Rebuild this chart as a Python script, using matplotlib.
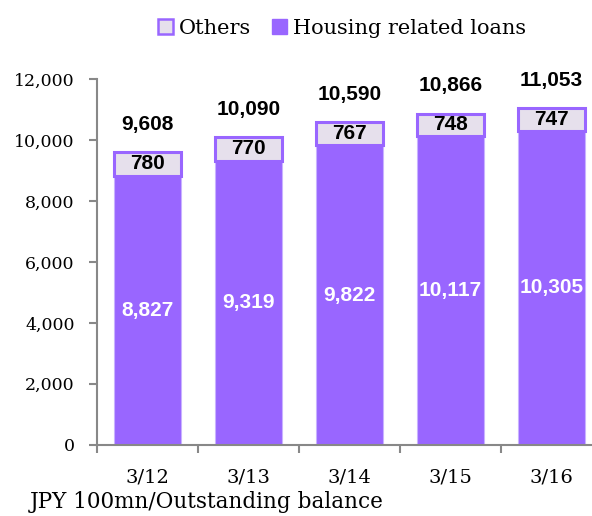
import matplotlib
matplotlib.use("Agg")
import matplotlib.pyplot as plt
from matplotlib.patches import Patch
import numpy as np

periods = ["3/12", "3/13", "3/14", "3/15", "3/16"]
housing = [8827, 9319, 9822, 10117, 10305]
others = [780, 770, 767, 748, 747]
totals = [9608, 10090, 10590, 10866, 11053]

purple = "#9966FF"
lavender = "#E6E0EC"
serif = "DejaVu Serif"
sans = "Liberation Sans"

fig = plt.figure(figsize=(5.92, 5.16), dpi=100)
ax = fig.add_axes([0.164, 0.138, 0.836, 0.709])

x = np.arange(len(periods))
w = 0.67
ax.bar(x, housing, width=w, color=purple, edgecolor="#C9B3FF", linewidth=0.8)
ax.bar(x, others, width=w, bottom=housing, color=lavender, edgecolor=purple, linewidth=2.2)

for i in range(len(periods)):
    ax.text(x[i], housing[i] / 2, f"{housing[i]:,}", ha="center", va="center",
            color="white", fontsize=15, fontweight="bold", family=sans)
    ax.text(x[i], housing[i] + others[i] / 2, f"{others[i]:,}", ha="center", va="center",
            color="black", fontsize=15, fontweight="bold", family=sans)
    ax.annotate(f"{totals[i]:,}", (x[i], totals[i]), xytext=(0, 13), textcoords="offset points",
                ha="center", va="bottom", fontsize=15, fontweight="bold", family=sans)

ax.set_yticks(range(0, 12001, 2000))
ax.set_yticklabels([f"{v:,}" for v in range(0, 12001, 2000)], family=serif, fontsize=12.5)
ax.set_xticks(x)
ax.set_xticklabels(periods, family=serif, fontsize=14)
ax.tick_params(axis="x", which="major", length=0, pad=17)
ax.set_xticks(np.arange(-0.5, 4.0, 1), minor=True)
ax.tick_params(axis="x", which="minor", length=6, color="#888888", width=1.5, direction="out")
ax.tick_params(axis="y", length=6, color="#888888", width=1.5, direction="out", pad=10)
ax.set_xlim(-0.5, 4.4)
ax.set_ylim(0, 12000)

for s in ["top", "right"]:
    ax.spines[s].set_visible(False)
for s in ["left", "bottom"]:
    ax.spines[s].set_color("#888888")
    ax.spines[s].set_linewidth(1.5)

handles = [Patch(facecolor=lavender, edgecolor=purple, linewidth=1.8, label="Others"),
           Patch(facecolor=purple, edgecolor=purple, label="Housing related loans")]
fig.legend(handles=handles, loc="center", bbox_to_anchor=(0.578, 0.945), ncol=2, frameon=False,
           prop={"family": serif, "size": 15}, handlelength=0.7, handleheight=0.7,
           handletextpad=0.3, columnspacing=1.0)

fig.text(0.05, 0.027, "JPY 100mn/Outstanding balance", family=serif, fontsize=15.5, va="center")

fig.savefig("out.png", dpi=100)
